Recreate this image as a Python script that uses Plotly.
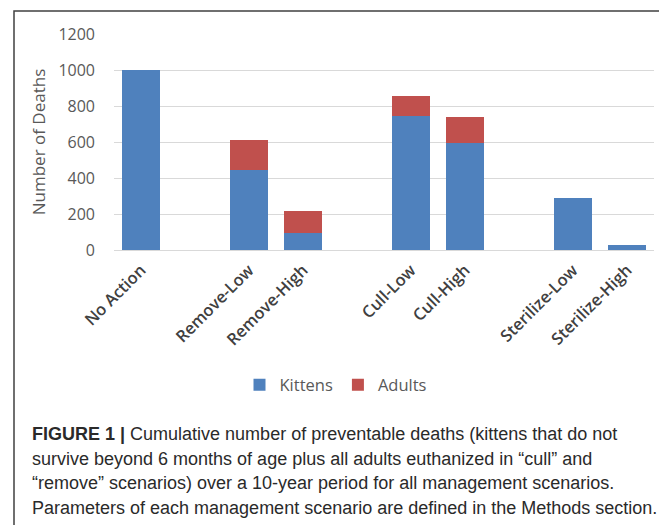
import plotly.graph_objects as go

groups = [
    ["No Action"],
    ["Remove-Low", "Remove-High"],
    ["Cull-Low", "Cull-High"],
    ["Sterilize-Low", "Sterilize-High"],
]
categories = ["No Action", "Remove-Low", "Remove-High", "Cull-Low", "Cull-High",
              "Sterilize-Low", "Sterilize-High"]
kittens = [1000, 447, 94, 747, 594, 288, 29]
adults = [0, 162, 123, 107, 145, 0, 0]
series_names = ["Kittens", "Adults"]
y_ticks = [0, 200, 400, 600, 800, 1000, 1200]
caption_lines = [
    "<b>FIGURE 1 |</b> Cumulative number of preventable deaths (kittens that do not",
    "survive beyond 6 months of age plus all adults euthanized in \u201ccull\u201d and",
    "\u201cremove\u201d scenarios) over a 10-year period for all management scenarios.",
    "Parameters of each management scenario are defined in the Methods section.",
]

# categorical axis with blank spacer slots between groups
cat_order = []
for i, g in enumerate(groups):
    if i > 0:
        cat_order.append(" " * i)
    cat_order.extend(g)

# page is rendered with an 8px body margin -> figure offset by 8px
OFF = 8
W, H = 667 - OFF, 525 - OFF
PL, PR, PT, PB = 114, 654, 34, 250   # plot area in page pixels
PW, PH = PR - PL, PB - PT
ML, MT = PL - OFF, PT - OFF
MR = W - ML - PW
MB = H - MT - PH

def px(x):
    return (x - PL) / PW

def py(y):
    return (PB - y) / PH

fig = go.Figure()
fig.add_trace(go.Bar(x=categories, y=kittens, name=series_names[0],
                     marker=dict(color="#4F81BD", line=dict(width=0))))
fig.add_trace(go.Bar(x=categories, y=adults, name=series_names[1],
                     marker=dict(color="#C0504D", line=dict(width=0))))

fig.update_layout(
    width=W, height=H,
    margin=dict(l=ML, r=MR, t=MT, b=MB, pad=0, autoexpand=False),
    barmode="stack", bargap=0.28,
    paper_bgcolor="white", plot_bgcolor="white",
    font=dict(family="Open Sans, Noto Sans, sans-serif", color="#595959"),
    xaxis=dict(
        type="category", categoryorder="array", categoryarray=cat_order,
        tickangle=-45,
        tickfont=dict(size=16.5, color="#404040", family="Open Sans", weight=600),
        showgrid=False, ticks="", showline=True, linecolor="#D9D9D9", linewidth=1,
        ticklabelstandoff=3,
    ),
    yaxis=dict(
        range=[0, 1200], tickvals=y_ticks, showgrid=True, gridcolor="#D9D9D9",
        gridwidth=1, zeroline=False, ticks="", showline=False,
        tickfont=dict(size=16, color="#595959"), ticklabelstandoff=18,
        title=dict(text="Number of Deaths", font=dict(size=17, color="#595959"),
                   standoff=8),
    ),
    legend=dict(orientation="h", x=px(336), xanchor="center", y=py(385),
                yanchor="middle", font=dict(size=16.5, color="#595959"),
                traceorder="normal", itemwidth=30),
    showlegend=True,
)

for i, line in enumerate(caption_lines):
    fig.add_annotation(text=line, xref="paper", yref="paper",
                       x=px(30), y=py(434 + 24.7 * i), xanchor="left", yanchor="middle",
                       showarrow=False, align="left",
                       font=dict(family="Liberation Sans, Arial", size=18, color="#2a2a2a"))

fig.add_shape(type="rect", xref="paper", yref="paper",
              x0=px(14), x1=px(700), y0=py(11), y1=py(560),
              line=dict(color="#404040", width=1.5), fillcolor="rgba(0,0,0,0)")

fig.write_html("out.html")
